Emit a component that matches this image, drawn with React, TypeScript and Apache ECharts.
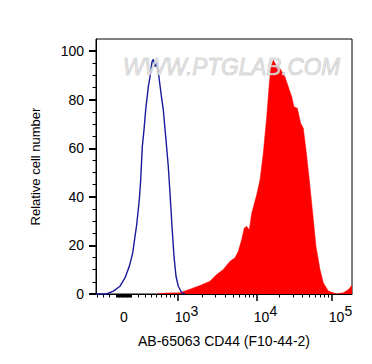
import React, { useEffect, useRef } from 'react';
import * as echarts from 'echarts';

// x values are display channels (0..256) on the biexponential axis, y = relative cell number
const blueX = [0, 10.7, 17.3, 24, 29, 33.3, 36.7, 39, 40.7, 43.3, 44.7, 46.3, 48, 49.7, 52.3, 54, 56, 57.3, 59, 60.7, 62.3, 65, 67.3, 70, 72.3, 74, 76, 78, 80, 82.3, 85.7, 89];
const blueY = [0, 0, 1.2, 3.2, 6.6, 11.4, 16.9, 23.7, 28.5, 38.8, 47, 60.7, 67.6, 75.8, 85.3, 89.4, 95.6, 96.6, 93.6, 95, 91.5, 82.6, 75.8, 63.4, 52.5, 41.6, 27.8, 15.5, 7.3, 3.2, 0.5, 0];

const redX = [60.7, 70, 84, 94, 104, 114, 120.7, 127.3, 134, 139, 142.3, 145.7, 148.3, 150.7, 153.3, 155.7, 160.7, 164, 167.3, 170.7, 173.3, 175, 177.3, 180, 184, 189, 192.3, 195.7, 198, 201.3, 204.7, 207.3, 210, 213.3, 216.7, 220, 224, 227.3, 232.3, 240.7, 247.3, 252.3, 256];
const redY = [0, 0.4, 0.5, 2.0, 3.5, 5.3, 8.0, 10.1, 13.5, 14.9, 17.6, 22.4, 27.2, 27.8, 26.5, 33.3, 40.9, 47, 58, 73, 86.7, 93.6, 96.3, 94.3, 92.9, 89.4, 85.3, 81.2, 77.1, 76.5, 70.3, 68.3, 59.3, 47, 33.3, 19.6, 10.1, 4.6, 1.2, 0, 0.5, 1.8, 3.6];

const yMajorTicks = [0, 20, 40, 60, 80, 100];
const yMinorTicks = [5, 10, 15, 25, 30, 35, 45, 50, 55, 65, 70, 75, 85, 90, 95];

const xLabelValues = [0, 1e3, 1e4, 1e5];
const xLabelExponents = ['', '3', '4', '5'];
const xMajorValues = [1e3, 1e4, 1e5];
const xLinearMinorValues = [-400, -300, -200, -100, -90, -80, -70, -60, -50, -40, -30, -20, -10, 0, 10, 20, 30, 40, 50, 60, 70, 80, 90, 100, 200, 300, 400, 500, 600, 700, 800, 900];
const xDecadeMultipliers = [2, 3, 4, 5, 6, 7, 8, 9];
const xDecades = [1e3, 1e4];

const FONT = 'Liberation Sans, Arial, Helvetica, sans-serif';

// biexponential display transform: fluorescence value -> display channel
function toChannel(v: number): number {
  if (v >= 1e4) return 161 + 75 * Math.log10(v / 1e4);
  if (v >= 1e3) return 82 + 79 * Math.log10(v / 1e3);
  return 28 + 38.8 * Math.asinh(v / 530);
}

export default function App() {
  const ref = useRef<HTMLDivElement>(null);
  useEffect(() => {
    document.body.style.margin = '0';
    if (!ref.current) return;
    const chart = echarts.init(ref.current, undefined, { renderer: 'svg' });

    const labelCh = xLabelValues.map(toChannel);
    const majorCh = xMajorValues.map(toChannel);
    const minorVals: number[] = [...xLinearMinorValues];
    xDecades.forEach((d) => xDecadeMultipliers.forEach((k) => minorVals.push(k * d)));
    const minorCh = minorVals.map(toChannel).filter((c) => c >= 0 && c <= 256);

    const fmt = (val: number) => {
      let idx = 0;
      let best = Infinity;
      labelCh.forEach((c, i) => {
        const d = Math.abs(c - val);
        if (d < best) { best = d; idx = i; }
      });
      if (xLabelExponents[idx] === '') return '{b|0}';
      return '{pad|}{b|10}{s|' + xLabelExponents[idx] + '}';
    };

    chart.setOption({
      animation: false,
      grid: { left: 96, top: 39, right: 20, bottom: 70, show: true, borderColor: '#000', borderWidth: 1, backgroundColor: 'transparent' },
      xAxis: [
        {
          type: 'value', min: 0, max: 256, position: 'bottom',
          name: 'AB-65063 CD44 (F10-44-2)', nameLocation: 'middle', nameGap: 38,
          nameTextStyle: { fontSize: 14, color: '#000', fontFamily: FONT },
          axisLine: { show: true, lineStyle: { color: '#000', width: 1 } },
          splitLine: { show: false },
          axisTick: { show: true, customValues: majorCh, length: 7, lineStyle: { color: '#000', width: 1.5 } },
          axisLabel: {
            show: true, customValues: labelCh, formatter: fmt, margin: 10,
            rich: {
              b: { fontSize: 14, color: '#000', fontFamily: FONT, lineHeight: 25 },
              s: { fontSize: 14, color: '#000', fontFamily: FONT, lineHeight: 14, padding: [0, 0, 11, 0] },
              pad: { width: 17 },
            },
          },
        },
        {
          type: 'value', min: 0, max: 256, position: 'bottom',
          axisLine: { show: false }, splitLine: { show: false },
          axisTick: { show: true, customValues: minorCh, length: 3.5, lineStyle: { color: '#000', width: 1 } },
          axisLabel: { show: false },
        },
      ],
      yAxis: [
        {
          type: 'value', min: 0, max: 105, position: 'left',
          name: 'Relative cell number', nameLocation: 'middle', nameGap: 54,
          nameTextStyle: { fontSize: 13, color: '#000', fontFamily: FONT },
          axisLine: { show: true, lineStyle: { color: '#000', width: 1 } },
          splitLine: { show: false },
          axisTick: { show: true, customValues: yMajorTicks, length: 7, lineStyle: { color: '#000', width: 2 } },
          axisLabel: { show: true, customValues: yMajorTicks, margin: 12, fontSize: 14, color: '#000', fontFamily: FONT },
        },
        {
          type: 'value', min: 0, max: 105, position: 'left',
          axisLine: { show: false }, splitLine: { show: false },
          axisTick: { show: true, customValues: yMinorTicks, length: 3.5, lineStyle: { color: '#000', width: 1 } },
          axisLabel: { show: false },
        },
      ],
      series: [
        {
          type: 'line', xAxisIndex: 0, yAxisIndex: 0, symbol: 'none', z: 2,
          data: redX.map((x, i) => [x, redY[i]]),
          lineStyle: { width: 0.5, color: '#ff0000' },
          areaStyle: { color: '#ff0000', opacity: 1 },
        },
        {
          type: 'line', xAxisIndex: 0, yAxisIndex: 0, symbol: 'none', z: 3,
          data: blueX.map((x, i) => [x, blueY[i]]),
          lineStyle: { width: 1.4, color: '#1a1a9e' },
        },
      ],
      graphic: [
        {
          type: 'text', x: 123, y: 55, z: 100, scaleX: 0.94,
          style: {
            text: 'WWW.PTGLAB.COM', font: 'italic 24px Liberation Sans, Arial, sans-serif',
            fill: '#dedede', stroke: '#a9a9a9', lineWidth: 0.6, opacity: 0.9,
            textVerticalAlign: 'top',
          },
        },
      ],
    });
    return () => chart.dispose();
  }, []);
  return <div ref={ref} style={{ width: 372, height: 364 }} />;
}
